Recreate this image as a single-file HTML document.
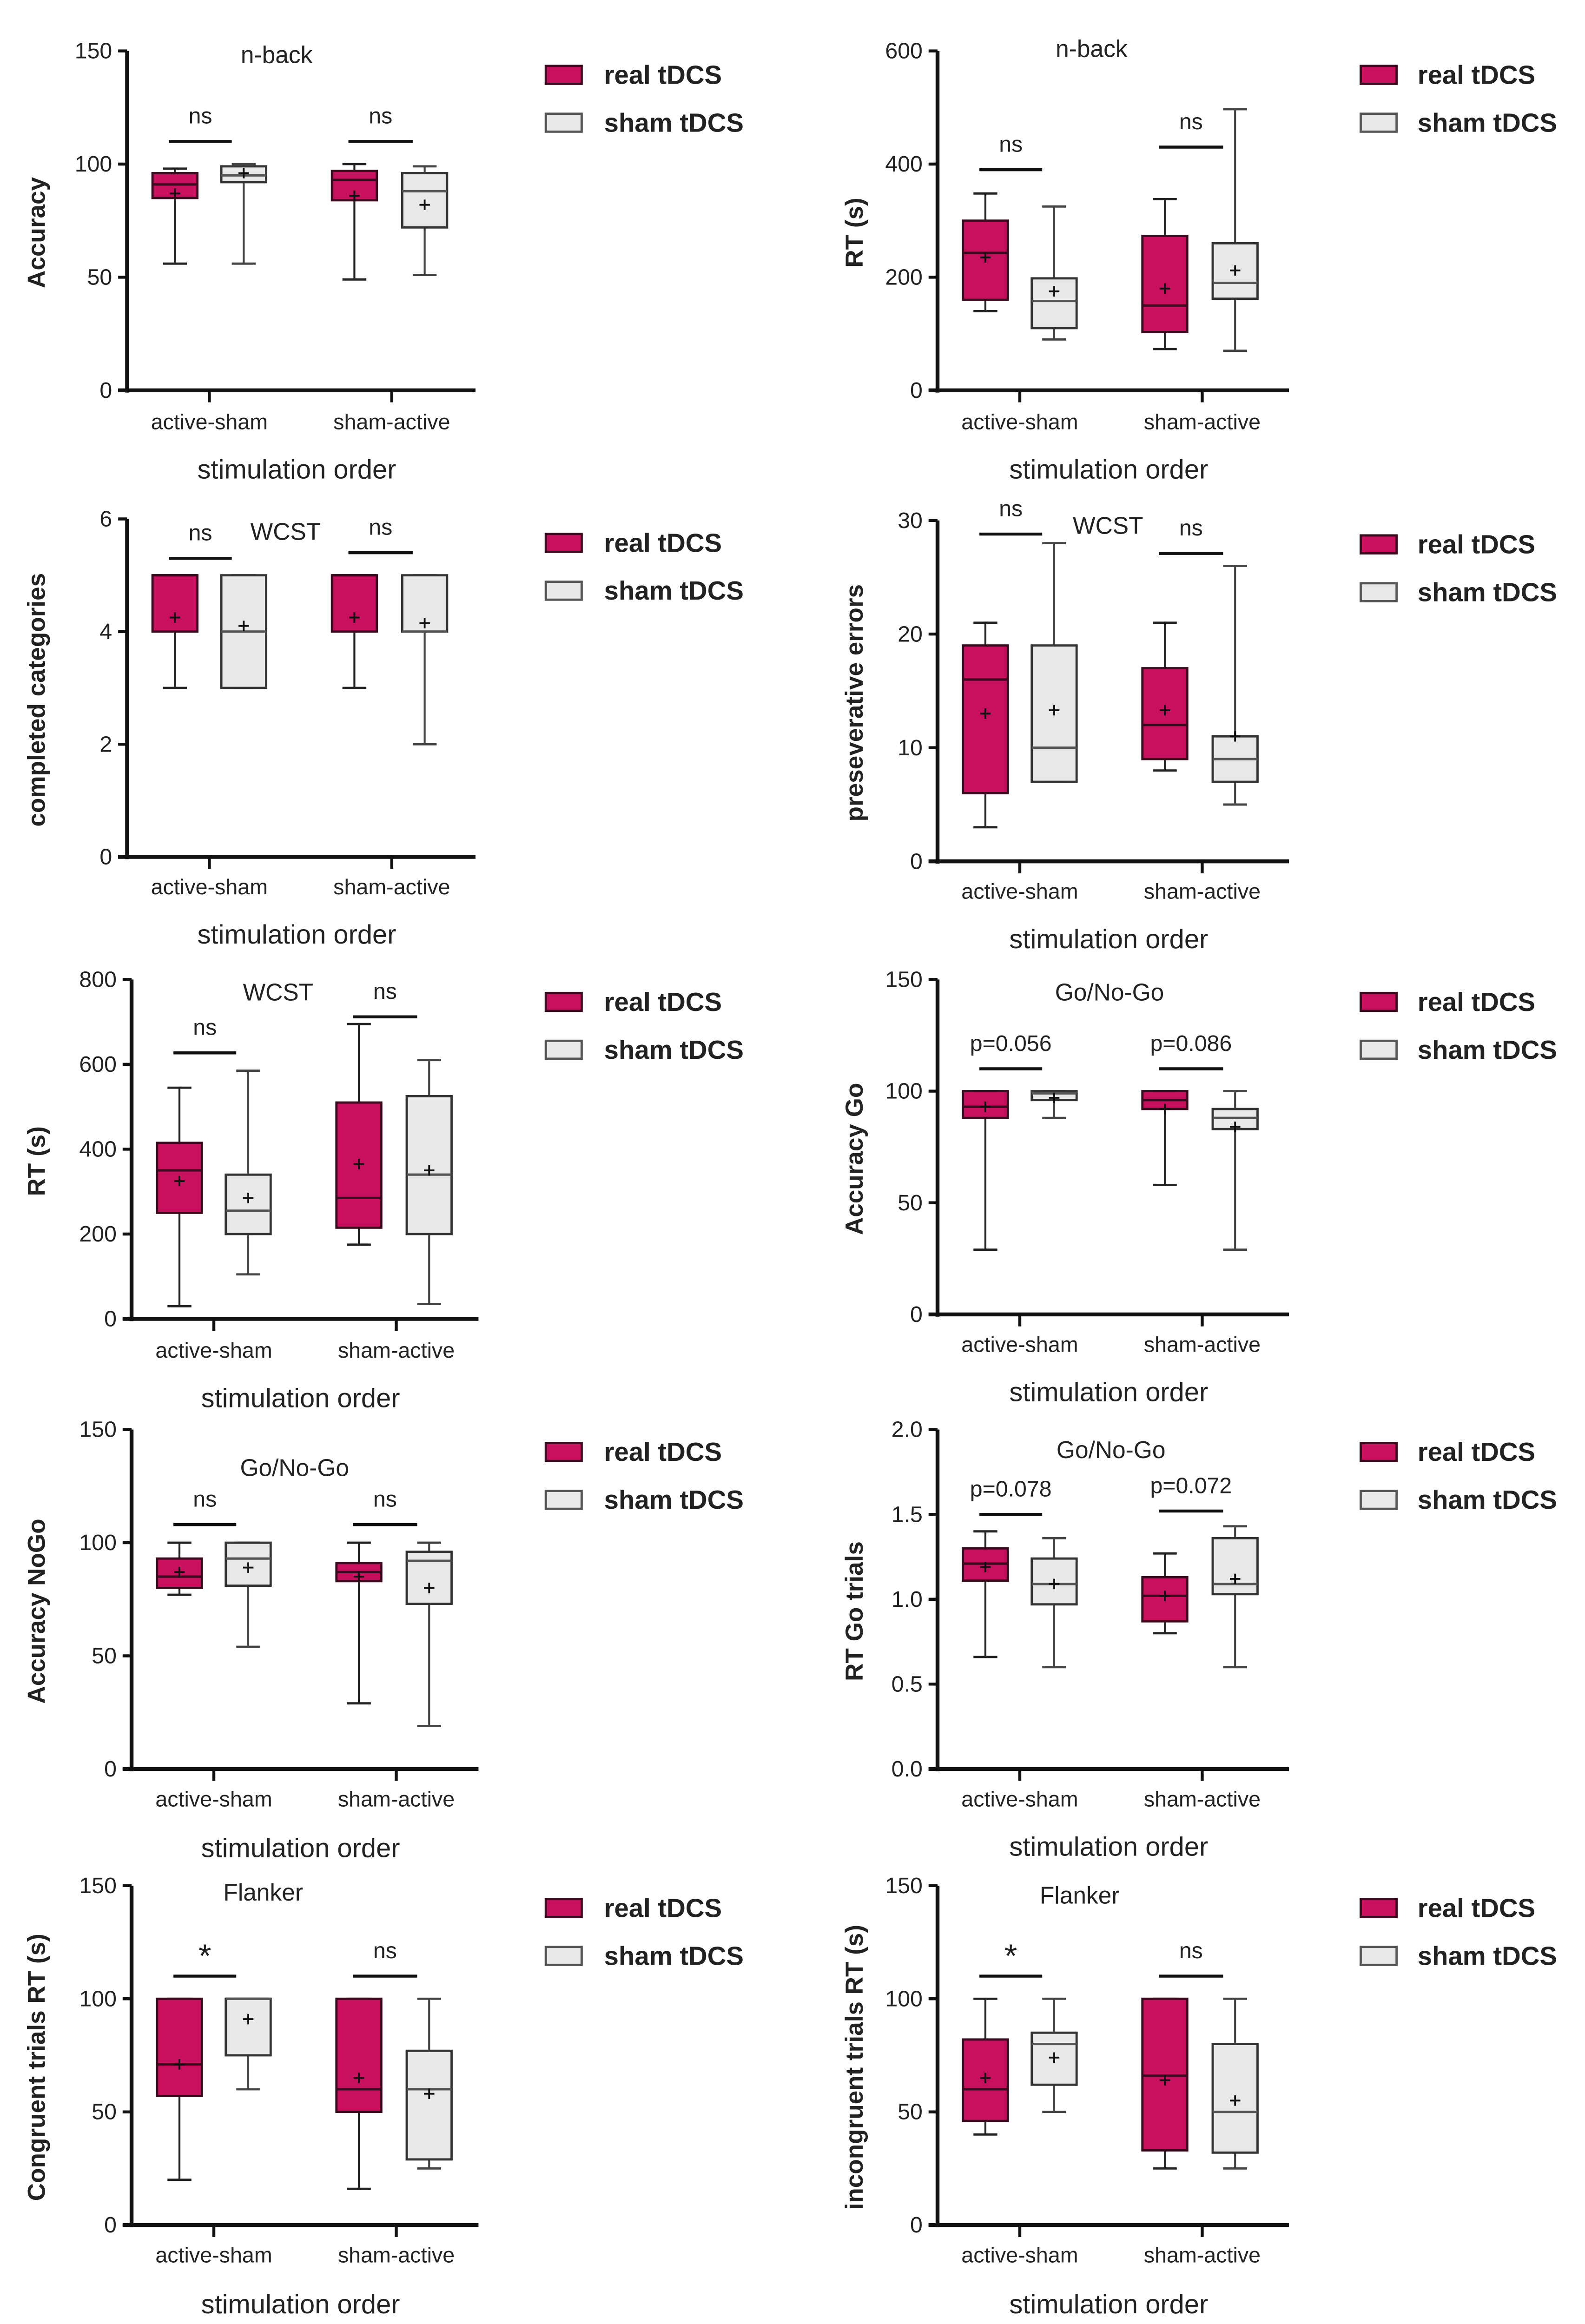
<!DOCTYPE html>
<html><head><meta charset="utf-8"><style>
html,body{margin:0;padding:0;background:#fff;width:3410px;height:5035px;overflow:hidden}
svg{display:block}
text{font-family:"Liberation Sans",sans-serif;fill:#222}
</style></head><body>
<svg id="fig" width="3410" height="5035" viewBox="0 0 1060 1565" xmlns="http://www.w3.org/2000/svg"></svg>
<script>
// Data: each box = [min, q1, median, q3, max, mean]; order: real G1, sham G1, real G2, sham G2
const groups = ["active-sham","sham-active"];
const seriesNames = ["real  tDCS","sham tDCS"];
const nbackAcc = [[56,85,91,96,98,87],[56,92,95,99,100,96],[49,84,93,97,100,86],[51,72,88,96,99,82]];
const nbackRT = [[140,160,243,300,348,235],[90,110,158,198,325,175],[73,103,150,273,338,180],[70,162,190,260,497,212]];
const wcstCat = [[3,4,5,5,5,4.25],[3,3,4,5,5,4.1],[3,4,5,5,5,4.25],[2,4,4,5,5,4.15]];
const wcstErr = [[3,6,16,19,21,13],[7,7,10,19,28,13.3],[8,9,12,17,21,13.3],[5,7,9,11,26,11]];
const wcstRT = [[30,250,350,415,545,325],[105,200,255,340,585,285],[175,215,285,510,695,365],[35,200,340,525,610,350]];
const goAcc = [[29,88,93,100,100,93],[88,96,99,100,100,97],[58,92,96,100,100,92],[29,83,88,92,100,84]];
const nogoAcc = [[77,80,85,93,100,87],[54,81,93,100,100,89],[29,83,87,91,100,85],[19,73,92,96,100,80]];
const goRT = [[0.66,1.11,1.21,1.30,1.40,1.19],[0.60,0.97,1.09,1.24,1.36,1.09],[0.80,0.87,1.02,1.13,1.27,1.02],[0.60,1.03,1.09,1.36,1.43,1.12]];
const congRT = [[20,57,71,100,100,71],[60,75,100,100,100,91],[16,50,60,100,100,65],[25,29,60,77,100,58]];
const incongRT = [[40,46,60,82,100,65],[50,62,80,85,100,74],[25,33,66,100,100,64],[25,32,50,80,100,55]];
const sigValues = [[110,110],[390,430],[5.3,5.4],[28.8,27.1],[627,712],[110,110],[108,108],[1.50,1.52],[110,110],[110,110]];
const sigLabels = [["ns","ns"],["ns","ns"],["ns","ns"],["ns","ns"],["ns","ns"],["p=0.056","p=0.086"],["ns","ns"],["p=0.078","p=0.072"],["*","ns"],["*","ns"]];
const yTicks = [[0,50,100,150],[0,200,400,600],[0,2,4,6],[0,10,20,30],[0,200,400,600,800],[0,50,100,150],[0,50,100,150],[0,0.5,1.0,1.5,2.0],[0,50,100,150],[0,50,100,150]];
const tickFmt = [0,0,0,0,0,0,0,1,0,0];

const panels = [
 {d:nbackAcc,x0:85,xEnd:318,top:34,bot:261,ymax:150,yt:"Accuracy",title:"n-back",tx:185,ty:42,lab:282,st:316,leg:44,name:"nback-accuracy"},
 {d:nbackRT,x0:627,xEnd:862,top:34,bot:261,ymax:600,yt:"RT (s)",title:"n-back",tx:730,ty:38,lab:282,st:316,leg:44,name:"nback-rt"},
 {d:wcstCat,x0:85,xEnd:318,top:347,bot:573,ymax:6,yt:"completed categories",title:"WCST",tx:191,ty:361,lab:593,st:627,leg:357,name:"wcst-categories"},
 {d:wcstErr,x0:627,xEnd:862,top:348,bot:576,ymax:30,yt:"preseverative errors",title:"WCST",tx:741,ty:357,lab:596,st:630,leg:358,name:"wcst-errors"},
 {d:wcstRT,x0:88,xEnd:320,top:655,bot:882,ymax:800,yt:"RT (s)",title:"WCST",tx:186,ty:669,lab:903,st:937,leg:664,name:"wcst-rt"},
 {d:goAcc,x0:627,xEnd:862,top:655,bot:879,ymax:150,yt:"Accuracy Go",title:"Go/No-Go",tx:742,ty:669,lab:899,st:933,leg:664,name:"go-accuracy"},
 {d:nogoAcc,x0:88,xEnd:320,top:956,bot:1183,ymax:150,yt:"Accuracy NoGo",title:"Go/No-Go",tx:197,ty:987,lab:1203,st:1238,leg:965,name:"nogo-accuracy"},
 {d:goRT,x0:627,xEnd:862,top:956,bot:1183,ymax:2,yt:"RT Go trials",title:"Go/No-Go",tx:743,ty:975,lab:1203,st:1237,leg:965,name:"go-rt"},
 {d:congRT,x0:88,xEnd:320,top:1261,bot:1488,ymax:150,yt:"Congruent trials RT (s)",title:"Flanker",tx:176,ty:1271,lab:1508,st:1543,leg:1270,name:"flanker-congruent"},
 {d:incongRT,x0:627,xEnd:862,top:1261,bot:1488,ymax:150,yt:"incongruent trials RT (s)",title:"Flanker",tx:722,ty:1273,lab:1508,st:1543,leg:1270,name:"flanker-incongruent"}
];
const NS="http://www.w3.org/2000/svg";
const svg=document.getElementById('fig');
function mk(tag,attrs,parent,txt){const e=document.createElementNS(NS,tag);for(const k in attrs)e.setAttribute(k,attrs[k]);if(txt!==undefined)e.textContent=txt;(parent||svg).appendChild(e);return e;}
const fills=["#c8105e","#e8e8e8"], strokes=["#3a0a1e","#333"];

panels.forEach((p,pi)=>{
  const g=mk('g',{});
  
  
  const left = p.x0<400;
  const y=v=>p.bot-(v/p.ymax)*(p.bot-p.top);
  const cx=[p.x0+32,p.x0+78,p.x0+152,p.x0+199];
  const tickX=[p.x0+55,p.x0+177];
  const ya=mk('line',{x1:p.x0,y1:p.top,x2:p.x0,y2:p.bot+1.5,stroke:'#111','stroke-width':2.6},g);
  
  const xa=mk('line',{x1:p.x0-6,y1:p.bot,x2:p.xEnd,y2:p.bot,stroke:'#111','stroke-width':2.6},g);
  
  yTicks[pi].forEach(t=>{
    mk('line',{x1:p.x0-6,y1:y(t),x2:p.x0,y2:y(t),stroke:'#111','stroke-width':2},g);
    const tl=mk('text',{x:p.x0-10,y:y(t)+5,'text-anchor':'end','font-size':15},g,t.toFixed(tickFmt[pi]));
    
  });
  groups.forEach((gn,gi)=>{
    mk('line',{x1:tickX[gi],y1:p.bot,x2:tickX[gi],y2:p.bot+8,stroke:'#111','stroke-width':2},g);
    const xl=mk('text',{x:tickX[gi],y:p.lab+5,'text-anchor':'middle','font-size':14.5},g,gn);
    
  });
  const st=mk('text',{x:(p.x0+p.xEnd)/2-3,y:p.st+4,'text-anchor':'middle','font-size':18},g,'stimulation order');
  
  const yx=left?30:577, ym=(p.top+p.bot)/2+8;
  const yt=mk('text',{x:yx,y:ym,'text-anchor':'middle','font-size':16.5,'font-weight':'bold',transform:`rotate(-90 ${yx} ${ym})`},g,p.yt);
  
  const tt=mk('text',{x:p.tx,y:p.ty,'text-anchor':'middle','font-size':16},g,p.title);
  
  p.d.forEach((b,bi)=>{
    const s=bi%2, c=cx[bi], hw=15;
    const bg=mk('g',{},g);
    
    
    const wc=s?'#444':'#222';
    mk('line',{x1:c,y1:y(b[0]),x2:c,y2:y(b[4]),stroke:wc,'stroke-width':1.3},bg);
    mk('line',{x1:c-8,y1:y(b[0]),x2:c+8,y2:y(b[0]),stroke:wc,'stroke-width':1.5},bg);
    mk('line',{x1:c-8,y1:y(b[4]),x2:c+8,y2:y(b[4]),stroke:wc,'stroke-width':1.5},bg);
    mk('rect',{x:c-hw,y:y(b[3]),width:2*hw,height:Math.max(0.5,y(b[1])-y(b[3])),fill:fills[s],stroke:strokes[s],'stroke-width':1.5},bg);
    mk('line',{x1:c-hw,y1:y(b[2]),x2:c+hw,y2:y(b[2]),stroke:s?'#555':'#3a0a1e','stroke-width':1.6},bg);
    const my=y(b[5]);
    mk('line',{x1:c-3.5,y1:my,x2:c+3.5,y2:my,stroke:'#111','stroke-width':1.2},bg);
    mk('line',{x1:c,y1:my-3.5,x2:c,y2:my+3.5,stroke:'#111','stroke-width':1.2},bg);
  });
  [0,1].forEach(gi=>{
    const sy=y(sigValues[pi][gi]);
    const x1=cx[gi*2]-4,x2=cx[gi*2+1]-8;
    const sl=mk('line',{x1:x1,y1:sy,x2:x2,y2:sy,stroke:'#111','stroke-width':2},g);
    
    const lb=sigLabels[pi][gi];
    const big=lb==='*';
    const st2=mk('text',{x:(x1+x2)/2,y:sy-(big?6:12),'text-anchor':'middle','font-size':big?22:15},g,lb);
    
  });
  const lx=left?365:910, tx=left?404:948;
  seriesNames.forEach((n,si)=>{
    const ly=p.leg+si*32;
    const lg=mk('g',{},g);
    
    
    mk('rect',{x:lx,y:ly,width:24,height:12,fill:fills[si],stroke:si?'#555':'#3a0a1e','stroke-width':1.5},lg);
    mk('text',{x:tx,y:ly+12,'font-size':17.5,'font-weight':'bold'},lg,n);
  });
});
</script>
</body></html>
